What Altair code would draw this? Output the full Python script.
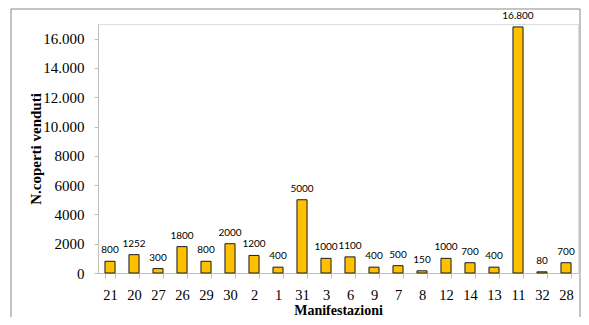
import altair as alt
import pandas as pd

categories = ["21", "20", "27", "26", "29", "30", "2", "1", "31", "3", "6", "9", "7", "8", "12", "14", "13", "11", "32", "28"]
values = [800, 1252, 300, 1800, 800, 2000, 1200, 400, 5000, 1000, 1100, 400, 500, 150, 1000, 700, 400, 16800, 80, 700]
y_ticks = [0, 2000, 4000, 6000, 8000, 10000, 12000, 14000, 16000]

df = pd.DataFrame({"cat": categories, "v": values})

W, H = 480, 249
serif = "Liberation Serif"

x_enc = alt.X("cat:N", sort=categories,
              scale=alt.Scale(paddingInner=0.58, paddingOuter=0.29),
              axis=alt.Axis(title="Manifestazioni", labelAngle=0, labelFont=serif, labelFontSize=14.5,
                            labelColor="#000000", labelPadding=10, tickBand="extent", tickSize=5,
                            tickColor="#BFBFBF", domainColor="#BFBFBF",
                            titleFont=serif, titleFontSize=14, titleFontWeight="bold", titleColor="#000000",
                            titleX=W / 2, titleY=37, titleBaseline="middle", titleAlign="center"))
y_enc = alt.Y("v:Q", scale=alt.Scale(domain=[0, 17000], nice=False),
              axis=alt.Axis(title="N.coperti venduti", values=y_ticks, grid=False, labelOverlap=False,
                            labelExpr="datum.value >= 10000 ? replace(format(datum.value, ','), ',', '.') : format(datum.value, 'd')",
                            labelFont=serif, labelFontSize=15, labelColor="#000000", labelPadding=10,
                            tickSize=4, tickColor="#BFBFBF", domainColor="#BFBFBF",
                            titleFont=serif, titleFontSize=15, titleFontWeight="bold", titleColor="#000000",
                            titleX=-63, titleY=H / 2, titleAngle=-90, titleAlign="center", titleBaseline="middle"))

base = alt.Chart(df)
bars = base.mark_bar(color="#FFC000", stroke="#1a1a1a", strokeWidth=1).encode(x=x_enc, y=y_enc)
labels = base.mark_text(font="Lato", fontSize=10, color="#000000", baseline="middle", dy=-11).transform_calculate(
    lab="datum.v >= 10000 ? replace(format(datum.v, ','), ',', '.') : format(datum.v, 'd')"
).encode(x=x_enc, y=y_enc, text="lab:N")

fc = "#898989"
edge_left = alt.Chart().mark_rule(color=fc, strokeWidth=1, clip=False).encode(
    x=alt.value(-87), y=alt.value(-15), y2=alt.value(H + 60))
edge_right = alt.Chart().mark_rule(color=fc, strokeWidth=1, clip=False).encode(
    x=alt.value(W + 2), y=alt.value(-15), y2=alt.value(H + 60))
edge_top = alt.Chart().mark_rule(color=fc, strokeWidth=1, clip=False).encode(
    x=alt.value(-87), x2=alt.value(W + 2), y=alt.value(-15))

chart = alt.layer(bars, labels, edge_left, edge_right, edge_top).properties(
    width=W, height=H, autosize=alt.AutoSizeParams(type="none"),
    padding={"left": 90, "top": 16, "right": 3, "bottom": 44}
).configure_view(stroke=None).configure(background="white")

chart.save("out.html", embed_options={"renderer": "svg", "actions": False})
